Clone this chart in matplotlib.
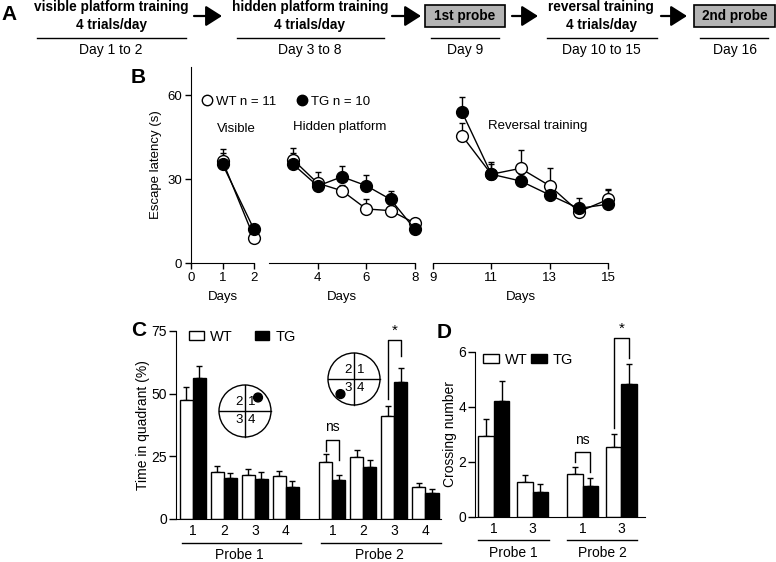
import matplotlib
matplotlib.use('Agg')
import matplotlib.pyplot as plt
import matplotlib.transforms as mtransforms
import numpy as np
from matplotlib.patches import Circle, Rectangle, Patch
from matplotlib.lines import Line2D

plt.rcParams['font.family'] = ['Liberation Sans', 'DejaVu Sans']
plt.rcParams['font.size'] = 9

# ---------------- data ----------------
# Panel A (schedule)
a_steps = ["visible platform training\n4 trials/day", "hidden platform training\n4 trials/day",
           "1st probe", "reversal training\n4 trials/day", "2nd probe"]
a_days = ["Day 1 to 2", "Day 3 to 8", "Day 9", "Day 10 to 15", "Day 16"]
a_boxed = [False, False, True, False, True]

# Panel B (escape latency, s)
b_vis_days = [1, 2]
b_vis_wt = [36.5, 9.0]
b_vis_wt_err = [4.2, 1.0]
b_vis_tg = [35.3, 12.0]
b_vis_tg_err = [4.0, 1.0]

b_hid_days = [3, 4, 5, 6, 7, 8]
b_hid_wt = [36.8, 28.5, 25.8, 19.3, 18.7, 14.2]
b_hid_wt_err = [4.2, 4.0, 2.2, 3.5, 1.5, 1.0]
b_hid_tg = [35.2, 27.5, 30.8, 27.6, 22.7, 12.0]
b_hid_tg_err = [4.1, 2.0, 3.8, 3.8, 3.0, 1.0]

b_rev_days = [10, 11, 12, 13, 14, 15]
b_rev_wt = [45.4, 31.7, 33.8, 27.6, 18.3, 22.7]
b_rev_wt_err = [4.6, 3.5, 6.6, 6.4, 2.5, 3.7]
b_rev_tg = [53.8, 31.7, 29.3, 24.3, 19.5, 21.0]
b_rev_tg_err = [5.6, 4.5, 2.5, 3.0, 3.8, 5.0]

b_legend = ["WT n = 11", "TG n = 10"]

# Panel C (time in quadrant, %)
c_quadrants = ["1", "2", "3", "4"]
c_probes = ["Probe 1", "Probe 2"]
c_wt = [[47.4, 18.5, 17.3, 16.9], [22.8, 24.6, 40.9, 12.6]]
c_wt_err = [[5.1, 2.4, 2.5, 2.2], [3.0, 2.9, 4.0, 1.6]]
c_tg = [[56.3, 16.1, 15.8, 12.5], [15.6, 20.5, 54.6, 10.3]]
c_tg_err = [[4.8, 2.1, 2.8, 2.4], [1.7, 3.0, 5.8, 1.7]]

# Panel D (crossing number)
d_quadrants = ["1", "3"]
d_probes = ["Probe 1", "Probe 2"]
d_wt = [[2.92, 1.27], [1.56, 2.55]]
d_wt_err = [[0.62, 0.23], [0.24, 0.44]]
d_tg = [[4.21, 0.89], [1.12, 4.82]]
d_tg_err = [[0.72, 0.29], [0.28, 0.73]]

# ---------------- figure ----------------
W, H = 776, 562
fig = plt.figure(figsize=(W / 100, H / 100), dpi=100)


def rect(x0, x1, ytop, ybot):
    return [x0 / W, 1 - ybot / H, (x1 - x0) / W, (ybot - ytop) / H]


def fx(x):
    return x / W


def fy(y):
    return 1 - y / H


NARROW = ['Liberation Sans Narrow', 'Liberation Sans', 'DejaVu Sans']

# ---------------- Panel A ----------------
fig.text(fx(9), fy(15), "A", fontsize=15, fontweight='bold', ha='center', va='center')
a_centers = [111, 310, 465, 601, 735]
a_line = [(37, 186), (237, 384), (431, 499), (547, 657), (700, 768)]
a_boxes = {2: (425, 505), 4: (694, 775)}
a_arrows = [(194, 222), (392, 421), (512, 538), (661, 687)]
for i, (txt, day) in enumerate(zip(a_steps, a_days)):
    cx = a_centers[i]
    if a_boxed[i]:
        x0, x1 = a_boxes[i]
        fig.patches.append(Rectangle((fx(x0), fy(27)), (x1 - x0) / W, 22 / H,
                                     transform=fig.transFigure, facecolor='#b4b4b4',
                                     edgecolor='k', lw=1.2))
        fig.text(fx(cx), fy(16), txt, family=NARROW, fontsize=9.8, fontweight='bold',
                 ha='center', va='center')
    else:
        fig.text(fx(cx), fy(16), txt, family=NARROW, fontsize=9.8, fontweight='bold',
                 ha='center', va='center', linespacing=1.3)
    l0, l1 = a_line[i]
    fig.add_artist(Line2D([fx(l0), fx(l1)], [fy(37.5), fy(37.5)], color='k', lw=1,
                          transform=fig.transFigure))
    fig.text(fx(cx), fy(50), day, family=NARROW, fontsize=10, ha='center', va='center')
for (s, e) in a_arrows:
    fig.add_artist(matplotlib.patches.FancyArrowPatch(
        (fx(s), fy(16)), (fx(e), fy(16)), transform=fig.transFigure,
        arrowstyle='-|>,head_length=0.55,head_width=0.35', mutation_scale=18,
        color='k', lw=1.6, shrinkA=0, shrinkB=0))

# ---------------- Panel B ----------------
fig.text(fx(138), fy(77), "B", fontsize=15, fontweight='bold', ha='center', va='center')
ax_v = fig.add_axes(rect(191, 254, 67, 263))
ax_h = fig.add_axes(rect(269, 415, 67, 263))
ax_r = fig.add_axes(rect(433, 608, 67, 263))

b_sets = [
    (ax_v, b_vis_days, b_vis_wt, b_vis_wt_err, b_vis_tg, b_vis_tg_err, (0, 2), [0, 1, 2]),
    (ax_h, b_hid_days, b_hid_wt, b_hid_wt_err, b_hid_tg, b_hid_tg_err, (2, 8), [4, 6, 8]),
    (ax_r, b_rev_days, b_rev_wt, b_rev_wt_err, b_rev_tg, b_rev_tg_err, (9, 15), [9, 11, 13, 15]),
]
for ax, days, wt, wte, tg, tge, xl, xt in b_sets:
    ax.set_xlim(*xl)
    ax.set_ylim(0, 70)
    ax.set_xticks(xt)
    ax.errorbar(days, wt, yerr=[np.zeros(len(wte)), wte], fmt='none', ecolor='k',
                elinewidth=1, capsize=2.4, capthick=1, zorder=2)
    ax.errorbar(days, tg, yerr=[np.zeros(len(tge)), tge], fmt='none', ecolor='k',
                elinewidth=1, capsize=2.4, capthick=1, zorder=2)
    ax.plot(days, wt, '-o', color='k', mfc='white', mec='k', ms=8.5, mew=1, lw=1, zorder=3)
    ax.plot(days, tg, '-o', color='k', mfc='k', mec='k', ms=8.5, lw=1, zorder=4)
    for s in ['top', 'right']:
        ax.spines[s].set_visible(False)
    ax.tick_params(direction='out', length=4.5, width=1, labelsize=9.5, pad=2)
    ax.set_xlabel("Days", fontsize=9.5, labelpad=5)
    ax.patch.set_visible(False)
    for art in ax.get_children():
        try:
            art.set_clip_on(False)
        except Exception:
            pass
for ax in (ax_h, ax_r):
    ax.spines['left'].set_visible(False)
    ax.set_yticks([])
ax_v.set_yticks([0, 30, 60])
ax_v.set_ylabel("Escape latency (s)", fontsize=9.5, labelpad=4)

b_handles = [Line2D([], [], marker='o', ls='none', mfc='white', mec='k', ms=7.5),
             Line2D([], [], marker='o', ls='none', mfc='k', mec='k', ms=7.5)]
ax_v.legend(b_handles, b_legend, loc='center left', bbox_to_anchor=(fx(202), fy(102)),
            bbox_transform=fig.transFigure, ncol=2, frameon=False, fontsize=9.5,
            handlelength=0.8, handletextpad=0.25, columnspacing=1.6, borderpad=0,
            borderaxespad=0)
fig.text(fx(236), fy(129), "Visible", fontsize=9.5, ha='center', va='center')
fig.text(fx(340), fy(127), "Hidden platform", fontsize=9.5, ha='center', va='center')
fig.text(fx(538), fy(126), "Reversal training", fontsize=9.5, ha='center', va='center')


# ---------------- bar panel helper ----------------
def bar_panel(ax, positions, wt, wte, tg, tge, width):
    for p in range(len(positions)):
        pos = np.array(positions[p])
        ax.bar(pos - width / 2, wt[p], width, color='white', edgecolor='k', lw=1, zorder=2)
        ax.bar(pos + width / 2, tg[p], width, color='k', edgecolor='k', lw=1, zorder=2)
        ax.errorbar(pos - width / 2, wt[p], yerr=[np.zeros(len(wte[p])), wte[p]], fmt='none',
                    ecolor='k', elinewidth=1, capsize=2, capthick=1, zorder=1)
        ax.errorbar(pos + width / 2, tg[p], yerr=[np.zeros(len(tge[p])), tge[p]], fmt='none',
                    ecolor='k', elinewidth=1, capsize=2, capthick=1, zorder=1)
    for s in ['top', 'right']:
        ax.spines[s].set_visible(False)
    ax.patch.set_visible(False)


def bracket(ax, x0, x1, top, y0, y1, label, ly, fs):
    ax.plot([x0, x0, x1, x1], [y0, top, top, y1], color='k', lw=1, clip_on=False)
    ax.text((x0 + x1) / 2, ly, label, ha='center', va='center', fontsize=fs, clip_on=False)


def probe_lines(ax, positions, names, yline, ytext, off_l, off_r):
    trans = mtransforms.blended_transform_factory(ax.transData, ax.transAxes)
    for pos, name in zip(positions, names):
        ax.plot([pos[0] - off_l, pos[-1] + off_r], [yline, yline], color='k', lw=1,
                transform=trans, clip_on=False)
        ax.text((pos[0] + pos[-1]) / 2, ytext, name, transform=trans, ha='center',
                va='center', fontsize=10)


# ---------------- Panel C ----------------
fig.text(fx(139), fy(331), "C", fontsize=15, fontweight='bold', ha='center', va='center')
ax_c = fig.add_axes(rect(176, 441, 331, 518.5))
c_pos = [[0, 1, 2, 3], [4.5, 5.5, 6.5, 7.5]]
cw = 0.42
bar_panel(ax_c, c_pos, c_wt, c_wt_err, c_tg, c_tg_err, cw)
ax_c.set_xlim(-0.54, 8.0)
ax_c.set_ylim(0, 75)
ax_c.set_yticks([0, 25, 50, 75])
ax_c.set_xticks(c_pos[0] + c_pos[1])
ax_c.set_xticklabels(c_quadrants + c_quadrants)
ax_c.tick_params(axis='x', length=0, labelsize=10, pad=4)
ax_c.tick_params(axis='y', direction='out', length=5, width=1, labelsize=10, pad=1.5)
ax_c.set_ylabel("Time in quadrant (%)", fontsize=10, labelpad=1)
probe_lines(ax_c, c_pos, c_probes, -0.128, -0.195, 0.36, 0.5)
bracket(ax_c, c_pos[1][0] - cw / 2, c_pos[1][0] + cw / 2, 31.5, 27.0, 23.5, "ns", 36.5, 10)
bracket(ax_c, c_pos[1][2] - cw / 2, c_pos[1][2] + cw / 2, 71.5, 48.0, 65.0, "*", 75.0, 11)
ax_c.legend([Patch(facecolor='white', edgecolor='k'), Patch(facecolor='k', edgecolor='k')],
            ["WT", "TG"], loc='center left', bbox_to_anchor=(fx(189), fy(337)),
            bbox_transform=fig.transFigure, ncol=2, frameon=False, fontsize=10.5,
            handlelength=1.0, handleheight=0.6, handletextpad=0.45, columnspacing=1.5,
            borderpad=0, borderaxespad=0)


def maze(cx, cy, r, dot_xy):
    iax = fig.add_axes(rect(cx - r - 2, cx + r + 2, cy - r - 2, cy + r + 2))
    lim = (r + 2) / r
    iax.set_xlim(-lim, lim)
    iax.set_ylim(-lim, lim)
    iax.axis('off')
    iax.add_patch(Circle((0, 0), 1, fill=False, lw=1, ec='k'))
    iax.plot([-1, 1], [0, 0], color='k', lw=1)
    iax.plot([0, 0], [-1, 1], color='k', lw=1)
    for t, (x, y) in zip(["2", "1", "3", "4"], [(-0.24, 0.36), (0.24, 0.36), (-0.24, -0.36), (0.26, -0.36)]):
        iax.text(x, y, t, ha='center', va='center', fontsize=9.5)
    iax.add_patch(Circle(dot_xy, 0.17, color='k'))


maze(245, 411, 26, (0.5, 0.52))
maze(354, 379, 26, (-0.52, -0.58))

# ---------------- Panel D ----------------
fig.text(fx(444), fy(332), "D", fontsize=15, fontweight='bold', ha='center', va='center')
ax_d = fig.add_axes(rect(475, 645, 351.7, 516.7))
d_pos = [[0, 1], [2.29, 3.29]]
dw = 0.4
bar_panel(ax_d, d_pos, d_wt, d_wt_err, d_tg, d_tg_err, dw)
ax_d.set_xlim(-0.49, 3.9)
ax_d.set_ylim(0, 6)
ax_d.set_yticks([0, 2, 4, 6])
ax_d.set_xticks(d_pos[0] + d_pos[1])
ax_d.set_xticklabels(d_quadrants + d_quadrants)
ax_d.tick_params(axis='x', length=0, labelsize=10, pad=4)
ax_d.tick_params(axis='y', direction='out', length=5, width=1, labelsize=10, pad=1.5)
ax_d.set_ylabel("Crossing number", fontsize=10, labelpad=1)
probe_lines(ax_d, d_pos, d_probes, -0.141, -0.222, 0.41, 0.41)
bracket(ax_d, d_pos[1][0] - dw / 2, d_pos[1][0] + dw / 2, 2.35, 2.0, 1.62, "ns", 2.8, 10)
bracket(ax_d, d_pos[1][1] - dw / 2, d_pos[1][1] + dw / 2, 6.5, 3.23, 5.78, "*", 6.85, 11)
ax_d.legend([Patch(facecolor='white', edgecolor='k'), Patch(facecolor='k', edgecolor='k')],
            ["WT", "TG"], loc='center left', bbox_to_anchor=(fx(483), fy(360)),
            bbox_transform=fig.transFigure, ncol=2, frameon=False, fontsize=10.5,
            handlelength=1.1, handleheight=0.6, handletextpad=0.4, columnspacing=0.2,
            borderpad=0, borderaxespad=0)

fig.savefig("out.png", dpi=100)
